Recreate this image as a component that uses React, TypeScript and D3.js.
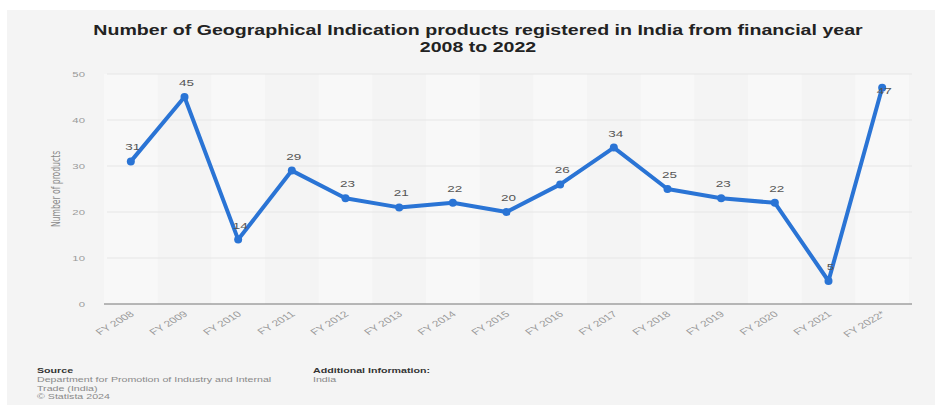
import React, { useEffect, useRef } from "react";
import * as d3 from "d3";

const categories = ["FY 2008","FY 2009","FY 2010","FY 2011","FY 2012","FY 2013","FY 2014","FY 2015","FY 2016","FY 2017","FY 2018","FY 2019","FY 2020","FY 2021","FY 2022*"];
const values = [31,45,14,29,23,21,22,20,26,34,25,23,22,5,47];
const yTicks = [0,10,20,30,40,50];
const titleLines = ["Number of Geographical Indication products registered in India from financial year","2008 to 2022"];
const sourceLines = ["Department for Promotion of Industry and Internal","Trade (India)","© Statista 2024"];

export default function App() {
  const ref = useRef<SVGSVGElement>(null);
  useEffect(() => {
    document.body.style.margin = "0";
    const svg = d3.select(ref.current);
    svg.selectAll("*").remove();
    const W = 935, H = 405;
    const K = 1.42; // horizontal stretch of the source image
    const left = 104, right = 912, top = 74, bottom = 304;
    const font = "'Liberation Sans', Arial, sans-serif";

    const txt = (x0: number, y0: number, s: string | number, o: any = {}) => {
      const g = svg.append("g").attr("transform", `translate(${x0},${y0}) scale(${K},1)${o.rot ? ` rotate(${o.rot})` : ""}`);
      const t = g.append("text").attr("x", 0).attr("y", 0)
        .attr("text-anchor", o.anchor || "start")
        .attr("font-family", o.family || font)
        .attr("font-size", o.size || 8)
        .attr("font-weight", o.weight || "normal")
        .attr("fill", o.fill || "#888")
        .text(s);
      if (o.dy) t.attr("dy", o.dy);
      return t;
    };

    svg.append("rect").attr("x", 7).attr("y", 10).attr("width", W - 7).attr("height", H - 10).attr("fill", "#f4f4f4");

    const x = d3.scaleBand().domain(categories).range([left, right - 3]);
    const y = d3.scaleLinear().domain([0, 50]).range([bottom, top]);

    categories.forEach((c, i) => {
      if (i % 2 === 0) {
        svg.append("rect").attr("x", x(c)!).attr("y", top).attr("width", x.bandwidth()).attr("height", bottom - top).attr("fill", "#f8f8f8");
      }
    });

    yTicks.filter(t => t > 0).forEach(t => {
      svg.append("line").attr("x1", left + 3).attr("x2", right).attr("y1", y(t)).attr("y2", y(t)).attr("stroke", "#e6e6e6").attr("stroke-width", 1);
    });
    svg.append("line").attr("x1", left).attr("x2", right).attr("y1", bottom).attr("y2", bottom).attr("stroke", "#777").attr("stroke-width", 1.2);

    yTicks.forEach(t => txt(85, y(t), t, { anchor: "end", size: 8, fill: "#9a9a9a", dy: "0.35em" }));
    txt(60, (top + bottom) / 2, "Number of products", { rot: -90, anchor: "middle", size: 8.5, fill: "#8a8a8a", family: "'Liberation Sans Narrow', 'DejaVu Sans Condensed', sans-serif" });

    categories.forEach(c => {
      const cx = x(c)! + x.bandwidth() / 2;
      txt(cx + 4, bottom + 11, c, { rot: -40, anchor: "end", size: 8.5, fill: "#9a9a9a" });
    });

    const pts = values.map((v, i) => [x(categories[i])! + x.bandwidth() / 2, y(v)] as [number, number]);
    svg.append("path").attr("d", d3.line()(pts)!).attr("fill", "none").attr("stroke", "#2a74d5").attr("stroke-width", 4).attr("stroke-linejoin", "round");
    pts.forEach(p => svg.append("circle").attr("cx", p[0]).attr("cy", p[1]).attr("r", 4).attr("fill", "#2a74d5"));
    values.forEach((v, i) => {
      const natural = pts[i][1] - 11;
      const ly = natural < top + 6 ? top + 20 : natural;
      txt(pts[i][0] + 2, ly, v, { anchor: "middle", size: 9.5, fill: "#555" });
    });

    titleLines.forEach((t, i) => txt(478, 35 + i * 17, t, { anchor: "middle", size: 13.8, weight: "bold", fill: "#222" }));

    txt(37, 373, "Source", { weight: "bold", size: 7.5, fill: "#333" });
    sourceLines.forEach((t, i) => txt(37, 382 + i * 8.5, t, { size: 7.5, fill: "#8a8a8a" }));
    txt(313, 373, "Additional Information:", { weight: "bold", size: 7.5, fill: "#333" });
    txt(313, 382, "India", { size: 7.5, fill: "#8a8a8a" });
  }, []);
  return <svg ref={ref} width={935} height={405} style={{ display: "block", background: "#fff" }} />;
}
